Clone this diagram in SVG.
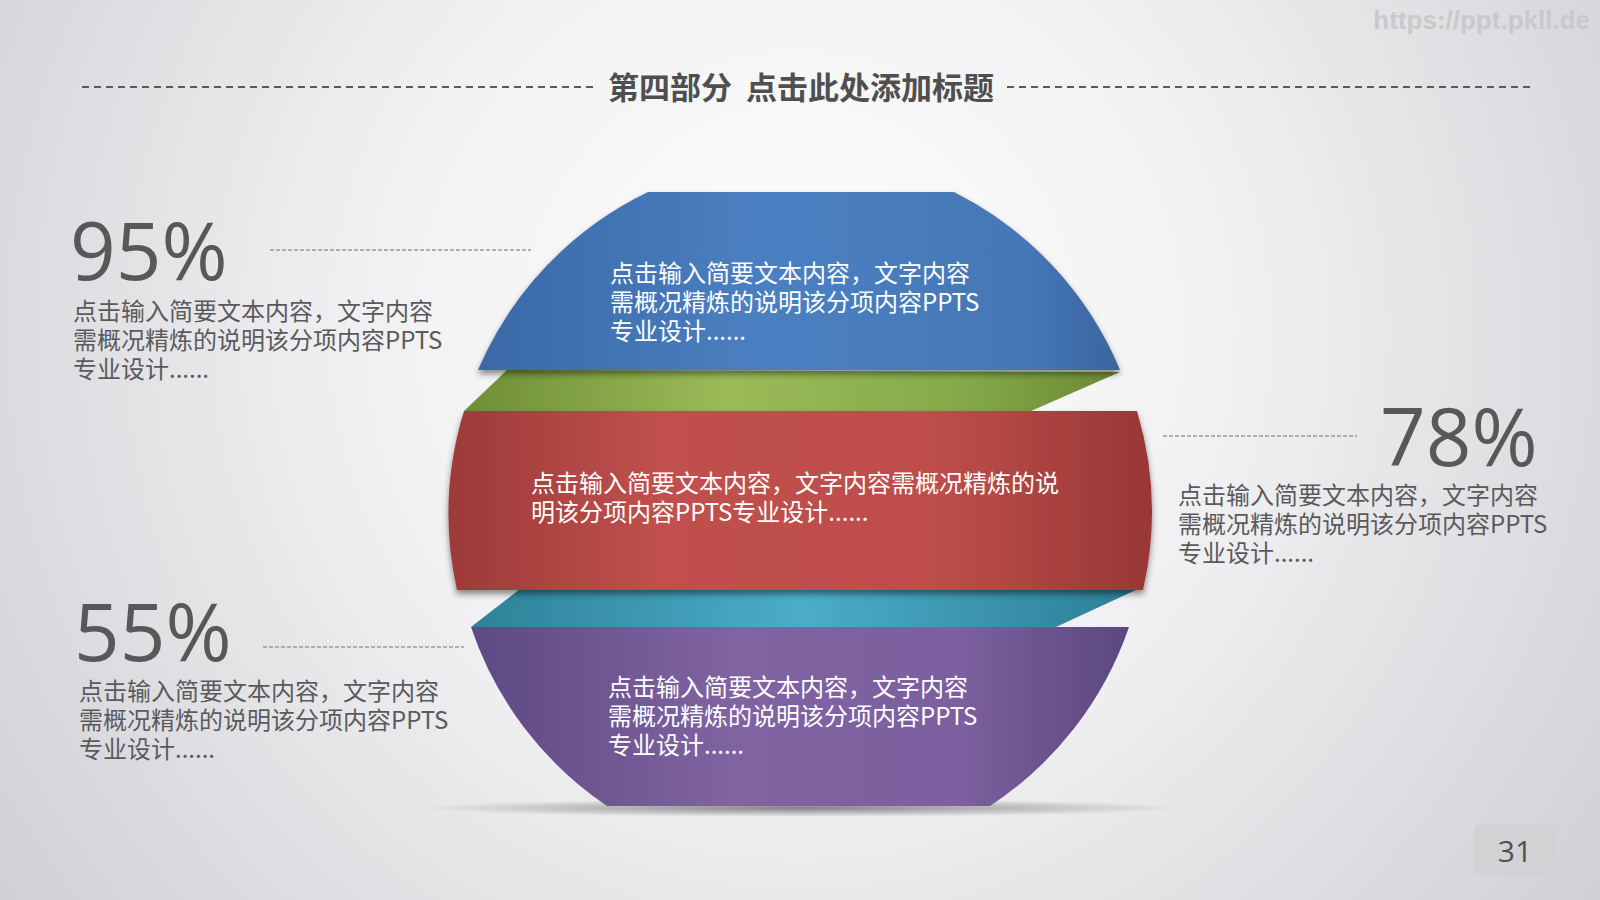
<svg xmlns="http://www.w3.org/2000/svg" width="1600" height="900" viewBox="0 0 1600 900">
  <defs>
    <radialGradient id="bg" cx="800" cy="330" r="1000" gradientUnits="userSpaceOnUse">
      <stop offset="0" stop-color="#ffffff"/>
      <stop offset="0.45" stop-color="#f0f0f2"/>
      <stop offset="1" stop-color="#cfcfd4"/>
    </radialGradient>
    <linearGradient id="gBlue" x1="0" y1="0" x2="1" y2="0">
      <stop offset="0" stop-color="#3b68a6"/>
      <stop offset="0.45" stop-color="#4a80c2"/>
      <stop offset="0.85" stop-color="#4577b6"/>
      <stop offset="1" stop-color="#3a659f"/>
    </linearGradient>
    <linearGradient id="gGreen" x1="0" y1="0" x2="1" y2="0">
      <stop offset="0" stop-color="#6f8e36"/>
      <stop offset="0.4" stop-color="#9bbb59"/>
      <stop offset="0.75" stop-color="#88a94a"/>
      <stop offset="1" stop-color="#6b8934"/>
    </linearGradient>
    <linearGradient id="gRed" x1="0" y1="0" x2="1" y2="0">
      <stop offset="0" stop-color="#9c3a38"/>
      <stop offset="0.3" stop-color="#c0504d"/>
      <stop offset="0.7" stop-color="#bd4d4a"/>
      <stop offset="1" stop-color="#983735"/>
    </linearGradient>
    <linearGradient id="gTeal" x1="0" y1="0" x2="1" y2="0">
      <stop offset="0" stop-color="#2f8199"/>
      <stop offset="0.5" stop-color="#4badc8"/>
      <stop offset="1" stop-color="#2d7e96"/>
    </linearGradient>
    <linearGradient id="gPurple" x1="0" y1="0" x2="1" y2="0">
      <stop offset="0" stop-color="#5e4982"/>
      <stop offset="0.4" stop-color="#8064a2"/>
      <stop offset="0.75" stop-color="#7b5f9e"/>
      <stop offset="1" stop-color="#5c477e"/>
    </linearGradient>
    <radialGradient id="gShadow" cx="0.5" cy="0.5" r="0.5">
      <stop offset="0" stop-color="#000" stop-opacity="0.45"/>
      <stop offset="1" stop-color="#000" stop-opacity="0"/>
    </radialGradient>
    <filter id="drop" x="-10%" y="-10%" width="120%" height="130%">
      <feDropShadow dx="0" dy="4" stdDeviation="3" flood-color="#000" flood-opacity="0.45"/>
    </filter>
    <style>
      .title { font-family: "Noto Sans CJK SC", "Noto Sans", sans-serif; font-size: 31px; font-weight: 700; fill: #4f4f4f; }
      .wm { font-family: "Liberation Sans", "DejaVu Sans", sans-serif; font-size: 26px; font-weight: 700; fill: #c9c9cc; }
      .big { font-family: "Open Sans", "Liberation Sans", sans-serif; font-size: 80px; fill: #58585a; }
      .desc { font-family: "Noto Sans CJK SC", "Noto Sans", sans-serif; font-size: 24px; fill: #5a5a5c; }
      .inner { font-family: "Noto Sans CJK SC", "Noto Sans", sans-serif; font-size: 24px; fill: #ffffff; }
      .dash { stroke: #9a9a9c; stroke-width: 1.3; stroke-dasharray: 4 2; fill: none; }
      .tdash { stroke: #5a5a5a; stroke-width: 2; stroke-dasharray: 7 5; fill: none; }
      .page { font-family: "Open Sans", "Liberation Sans", sans-serif; font-size: 30px; fill: #505052; }
    </style>
  </defs>

  <rect x="0" y="0" width="1600" height="900" fill="url(#bg)"/>

  <text class="wm" x="1590" y="29" text-anchor="end">https://ppt.pkll.de</text>

  <g id="title">
    <text class="title" x="801" y="99" text-anchor="middle" xml:space="preserve">第四部分  点击此处添加标题</text>
  </g>

  <g id="connectors">
    <line class="tdash" x1="82" y1="87" x2="595" y2="87"/>
    <line class="tdash" x1="1007" y1="87" x2="1531" y2="87"/>
    <line class="dash" x1="270" y1="250" x2="531" y2="250"/>
    <line class="dash" x1="263" y1="647" x2="464" y2="647"/>
    <line class="dash" x1="1163" y1="436" x2="1357" y2="436"/>
  </g>

  <ellipse cx="801" cy="808" rx="380" ry="9" fill="url(#gShadow)"/>

  <g id="slice-green">
    <path d="M 507 370 L 1120 372 L 1031 411 L 464 411 Z" fill="url(#gGreen)"/>
  </g>
  <g id="slice-teal">
    <path d="M 520 589 L 1138 589 L 1056 627 L 471 627 Z" fill="url(#gTeal)"/>
  </g>

  <g id="slice-blue">
    <path d="M 478 370 A 350 350 0 0 1 648 192 L 954 192 A 350 350 0 0 1 1120 370 Z" fill="url(#gBlue)" filter="url(#drop)"/>
    <text class="inner" x="610" y="282">点击输入简要文本内容，文字内容<tspan x="610" dy="29">需概况精炼的说明该分项内容PPTS</tspan><tspan x="610" dy="29">专业设计......</tspan></text>
  </g>

  <g id="slice-red">
    <path d="M 464 411 L 1137 411 A 350 350 0 0 1 1143 590 L 457 590 A 350 350 0 0 1 464 411 Z" fill="url(#gRed)" filter="url(#drop)"/>
    <text class="inner" x="531" y="492">点击输入简要文本内容，文字内容需概况精炼的说<tspan x="531" dy="29">明该分项内容PPTS专业设计......</tspan></text>
  </g>

  <g id="slice-purple">
    <path d="M 471 627 L 1129 627 A 350 350 0 0 1 990 806 L 607 806 A 350 350 0 0 1 471 627 Z" fill="url(#gPurple)"/>
    <text class="inner" x="608" y="696">点击输入简要文本内容，文字内容<tspan x="608" dy="29">需概况精炼的说明该分项内容PPTS</tspan><tspan x="608" dy="29">专业设计......</tspan></text>
  </g>

  <g id="stat-95">
    <text class="big" x="70" y="280">95%</text>
    <text class="desc" x="73" y="320">点击输入简要文本内容，文字内容<tspan x="73" dy="29">需概况精炼的说明该分项内容PPTS</tspan><tspan x="73" dy="29">专业设计......</tspan></text>
  </g>

  <g id="stat-55">
    <text class="big" x="74" y="661">55%</text>
    <text class="desc" x="79" y="700">点击输入简要文本内容，文字内容<tspan x="79" dy="29">需概况精炼的说明该分项内容PPTS</tspan><tspan x="79" dy="29">专业设计......</tspan></text>
  </g>

  <g id="stat-78">
    <text class="big" x="1380" y="466">78%</text>
    <text class="desc" x="1178" y="504">点击输入简要文本内容，文字内容<tspan x="1178" dy="29">需概况精炼的说明该分项内容PPTS</tspan><tspan x="1178" dy="29">专业设计......</tspan></text>
  </g>

  <g id="page-number">
    <rect x="1555" y="865" width="45" height="7" fill="#d4d4d8"/>
    <rect x="1474" y="824" width="81" height="51" rx="6" fill="#d2d2d4"/>
    <text class="page" x="1515" y="862" text-anchor="middle">31</text>
  </g>
</svg>
